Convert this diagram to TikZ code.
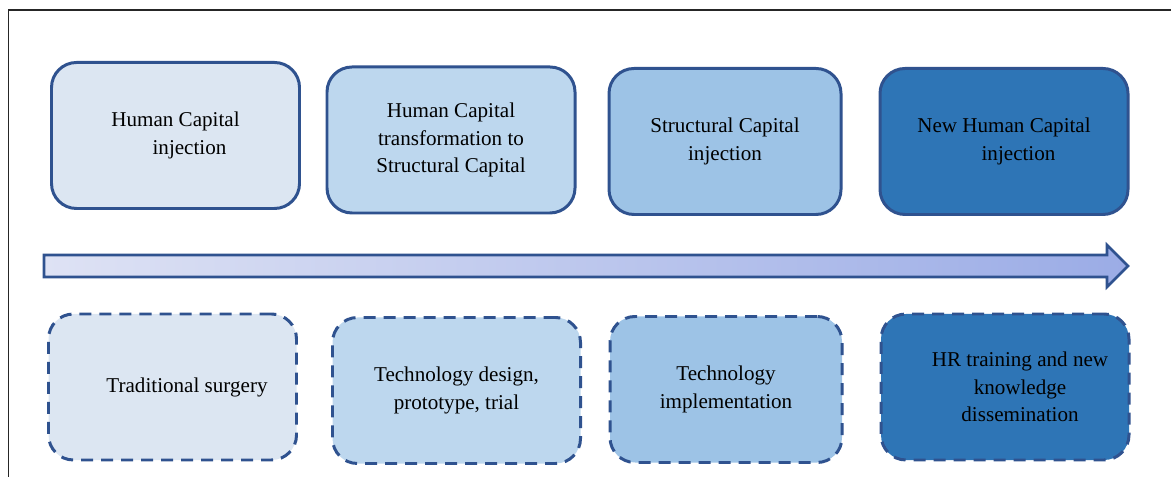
\documentclass[tikz,border=0pt]{standalone}
\usepackage{fontspec}
\setmainfont{Liberation Serif}
\usetikzlibrary{positioning}

\definecolor{stageA}{HTML}{DCE6F2}
\definecolor{stageB}{HTML}{BDD7EE}
\definecolor{stageC}{HTML}{9DC3E6}
\definecolor{stageD}{HTML}{2E75B6}
\definecolor{edgeblue}{HTML}{2F528F}
\definecolor{arrowL}{HTML}{DEE2F4}
\definecolor{arrowR}{HTML}{9BACE6}

\begin{document}
\begin{tikzpicture}[node distance=5.54cm,
  phase node/.style={rectangle,rounded corners=0.5cm,draw=edgeblue,line width=1.7pt,
    minimum width=4.96cm,minimum height=2.92cm,align=center,
    font=\rmfamily\fontsize{12}{15.5}\selectfont},
  task node/.style={phase node,dash pattern=on 0.24cm off 0.16cm}]

  \useasboundingbox (0,0) rectangle (23.42,-9.54);
  % frame
  \draw[line width=1.1pt,black!85] (0.17,-9.8) -- (0.17,-0.2) -- (23.8,-0.2);

  % capital stages
  \node[phase node,fill=stageA] (0) at (3.51,-2.71) {Human Capital\\ \hspace*{0.56cm}injection};
  \node[phase node,fill=stageB,yshift=-0.09cm] (1) [right of=0,node distance=5.51cm] {Human Capital\\ transformation to\\ Structural Capital};
  \node[phase node,fill=stageC,minimum width=4.64cm,yshift=-0.03cm] (2) [right of=1,node distance=5.48cm] {Structural Capital\\ injection};
  \node[phase node,fill=stageD] (3) [right of=2,node distance=5.58cm] {New Human Capital\\ \hspace*{0.58cm}injection};

  % activities
  \node[task node,fill=stageA,xshift=-0.06cm] (4) [below of=0,node distance=5.03cm] {\hspace*{0.58cm}Traditional surgery};
  \node[task node,fill=stageB,yshift=-0.07cm] (5) [right of=4,node distance=5.68cm] {Technology design,\\ prototype, trial};
  \node[task node,fill=stageC,minimum width=4.64cm,yshift=0.02cm] (6) [right of=5,node distance=5.39cm] {Technology\\ implementation};
  \node[task node,fill=stageD,yshift=0.05cm] (7) [right of=6,node distance=5.58cm] {\hspace*{0.6cm}HR training and new\\ \hspace*{0.6cm}knowledge\\ \hspace*{0.6cm}dissemination};

  % time arrow
  \draw[draw=edgeblue,line width=1.5pt,left color=arrowL,right color=arrowR]
    (0.88,-5.10) -- (22.14,-5.10) -- (22.14,-4.90) -- (22.56,-5.32)
    -- (22.14,-5.74) -- (22.14,-5.54) -- (0.88,-5.54) -- cycle;
\end{tikzpicture}
\end{document}
